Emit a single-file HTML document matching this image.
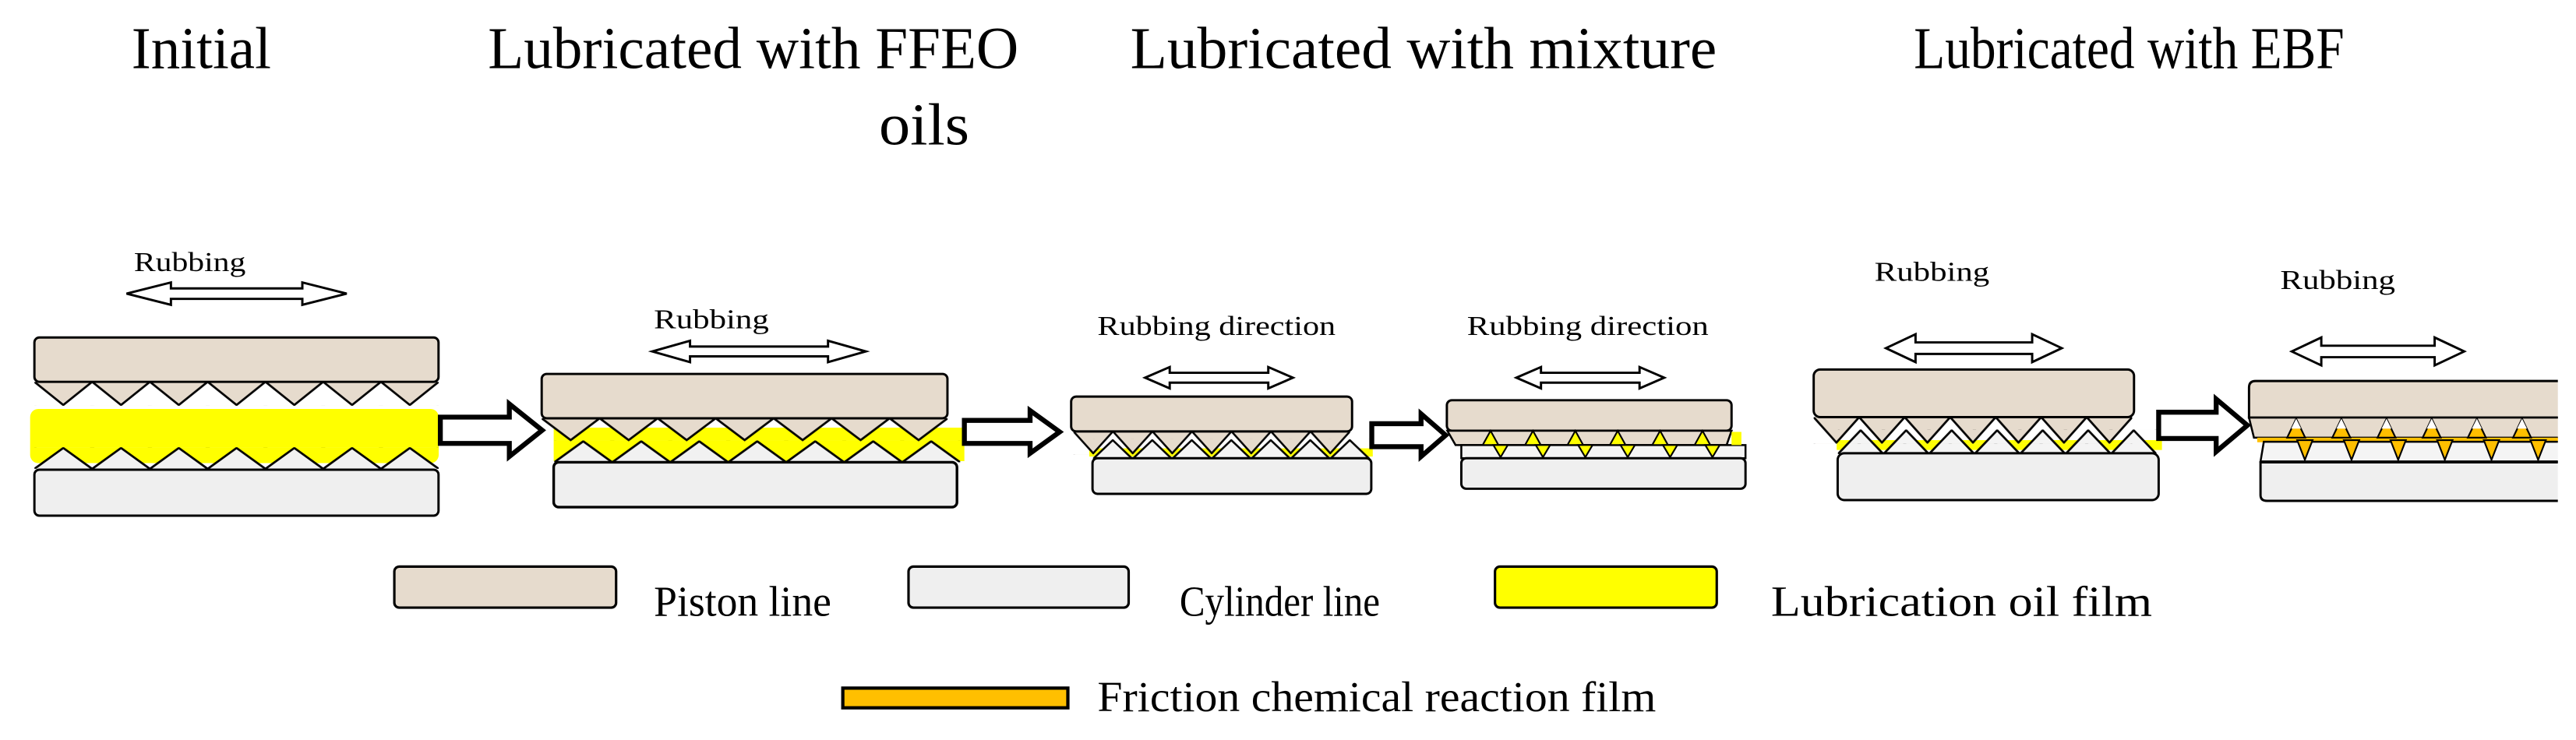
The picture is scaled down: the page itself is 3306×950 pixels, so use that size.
<!DOCTYPE html>
<html><head><meta charset="utf-8"><style>
html,body{margin:0;padding:0;background:#fff;}
svg{display:block;}
text{font-family:"Liberation Serif",serif;fill:#000;}
</style></head><body>
<svg width="3306" height="950" viewBox="0 0 1568 450.6" xmlns="http://www.w3.org/2000/svg">
<defs>
<pattern id="d1" patternUnits="userSpaceOnUse" x="20.9" y="232.5" width="35.16" height="14.6"><path d="M0,0 L17.58,14.1 L35.16,0Z" fill="#e6dbcd"/><path d="M0,0 L17.58,14.1 L35.16,0" fill="none" stroke="#000" stroke-width="1.3"/></pattern>
<pattern id="u1" patternUnits="userSpaceOnUse" x="20.9" y="272.3" width="35.16" height="13.2"><path d="M0,13.2 L17.58,0.5 L35.16,13.2Z" fill="#f1f1f1"/><path d="M0,13.2 L17.58,0.5 L35.16,13.2" fill="none" stroke="#000" stroke-width="1.3"/></pattern>
<pattern id="d2" patternUnits="userSpaceOnUse" x="329.7" y="254.7" width="35.3" height="14"><path d="M0,0 L17.65,13.3 L35.3,0Z" fill="#e6dbcd"/><path d="M0,0 L17.65,13.3 L35.3,0" fill="none" stroke="#000" stroke-width="1.3"/></pattern>
<pattern id="u2" patternUnits="userSpaceOnUse" x="337.35" y="268.2" width="35.3" height="13.3"><path d="M0,13.3 L17.65,0.5 L35.3,13.3Z" fill="#f1f1f1"/><path d="M0,13.3 L17.65,0.5 L35.3,13.3" fill="none" stroke="#000" stroke-width="1.3"/></pattern>
<pattern id="d3" patternUnits="userSpaceOnUse" x="653.4" y="262.7" width="24.05" height="14"><path d="M0,0 L12.03,13.3 L24.05,0Z" fill="#e6dbcd"/><path d="M0,0 L12.03,13.3 L24.05,0" fill="none" stroke="#000" stroke-width="1.2"/></pattern>
<pattern id="u3" patternUnits="userSpaceOnUse" x="665.3" y="267.5" width="24.05" height="12"><path d="M0,12 L12.03,0.5 L24.05,12Z" fill="#f4f4f4"/><path d="M0,12 L12.03,0.5 L24.05,12" fill="none" stroke="#000" stroke-width="1.2"/></pattern>
<pattern id="u5" patternUnits="userSpaceOnUse" x="1118.75" y="261.5" width="27.7" height="15"><path d="M0,15 L13.85,0.5 L27.7,15Z" fill="#f4f4f4"/></pattern>
<pattern id="u5l" patternUnits="userSpaceOnUse" x="1118.75" y="261.5" width="27.7" height="15"><path d="M0,15 L13.85,0.5 L27.7,15" fill="none" stroke="#000" stroke-width="1.3"/></pattern>
<pattern id="d5" patternUnits="userSpaceOnUse" x="1104" y="254" width="27.7" height="16.2"><path d="M0,0 L13.85,15.5 L27.7,0Z" fill="#e6dbcd"/><path d="M0,0 L13.85,15.5 L27.7,0" fill="none" stroke="#000" stroke-width="1.3"/></pattern>
</defs>

<!-- Titles -->
<text x="80" y="41.5" font-size="36" textLength="85" lengthAdjust="spacingAndGlyphs">Initial</text>
<text x="297" y="41.5" font-size="36" textLength="323" lengthAdjust="spacingAndGlyphs">Lubricated with FFEO</text>
<text x="535" y="88" font-size="36" textLength="55" lengthAdjust="spacingAndGlyphs">oils</text>
<text x="688" y="41.5" font-size="36" textLength="357" lengthAdjust="spacingAndGlyphs">Lubricated with mixture</text>
<text x="1165" y="41.5" font-size="36" textLength="262" lengthAdjust="spacingAndGlyphs">Lubricated with EBF</text>

<!-- Rubbing labels -->
<text x="81.5" y="165" font-size="16.5" textLength="68" lengthAdjust="spacingAndGlyphs">Rubbing</text>
<text x="398" y="200" font-size="16.5" textLength="70" lengthAdjust="spacingAndGlyphs">Rubbing</text>
<text x="668" y="204" font-size="16.5" textLength="145" lengthAdjust="spacingAndGlyphs">Rubbing direction</text>
<text x="893" y="204" font-size="16.5" textLength="147" lengthAdjust="spacingAndGlyphs">Rubbing direction</text>
<text x="1141" y="171" font-size="16.5" textLength="70" lengthAdjust="spacingAndGlyphs">Rubbing</text>
<text x="1388" y="176" font-size="16.5" textLength="70" lengthAdjust="spacingAndGlyphs">Rubbing</text>

<!-- Double arrows -->
<g fill="#fff" stroke="#000" stroke-width="1.4">
<path d="M77,178.8 L104,172 L104,175.6 L184,175.6 L184,172 L211,178.8 L184,185.6 L184,182 L104,182 L104,185.6Z"/>
<path d="M397,214 L420,207.5 L420,211 L504,211 L504,207.5 L527,214 L504,220.5 L504,217 L420,217 L420,220.5Z"/>
<path d="M697,230 L712,223.5 L712,227 L772,227 L772,223.5 L787,230 L772,236.5 L772,233 L712,233 L712,236.5Z"/>
<path d="M923,230 L938,223.5 L938,227 L998,227 L998,223.5 L1013,230 L998,236.5 L998,233 L938,233 L938,236.5Z"/>
<path d="M1148,212 L1166,203.5 L1166,208.5 L1237,208.5 L1237,203.5 L1255,212 L1237,220.5 L1237,215.5 L1166,215.5 L1166,220.5Z"/>
<path d="M1395,214 L1413,205.5 L1413,210.5 L1482,210.5 L1482,205.5 L1500,214 L1482,222.5 L1482,217.5 L1413,217.5 L1413,222.5Z"/>
</g>

<!-- Panel 1 -->
<rect x="20.9" y="232.5" width="246.1" height="14.6" fill="url(#d1)"/>
<rect x="20.9" y="205.5" width="246" height="27" rx="3" fill="#e6dbcd" stroke="#000" stroke-width="1.4"/>
<rect x="18.3" y="249" width="248.7" height="33" rx="5" fill="#ffff00"/>
<rect x="20.9" y="272.3" width="246.1" height="13.2" fill="url(#u1)"/>
<rect x="20.9" y="286" width="246" height="28" rx="3" fill="#efefef" stroke="#000" stroke-width="1.4"/>

<!-- Panel 2 -->
<rect x="337" y="260.4" width="250" height="20.4" fill="#ffff00"/>
<rect x="329.7" y="254.7" width="247.1" height="14" fill="url(#d2)"/>
<rect x="337.35" y="268.2" width="247.1" height="13.3" fill="url(#u2)"/>
<rect x="329.7" y="227.7" width="247" height="27" rx="3" fill="#e6dbcd" stroke="#000" stroke-width="1.4"/>
<rect x="337" y="281.5" width="245.5" height="27.3" rx="3" fill="#efefef" stroke="#000" stroke-width="1.6"/>

<!-- Panel 3 -->
<rect x="663" y="273" width="172.6" height="5" fill="#ffff00"/>
<rect x="653.4" y="262.7" width="168.4" height="14" fill="url(#d3)"/>
<rect x="665.3" y="267.5" width="168.4" height="12" fill="url(#u3)"/>
<rect x="652" y="241.5" width="171" height="21.2" rx="3" fill="#e6dbcd" stroke="#000" stroke-width="1.4"/>
<rect x="665" y="279" width="169.7" height="21.7" rx="3" fill="#efefef" stroke="#000" stroke-width="1.4"/>

<!-- Panel 4 -->
<rect x="880.7" y="243.7" width="173.3" height="18.6" rx="3" fill="#e6dbcd" stroke="#000" stroke-width="1.4"/>
<path d="M881,262.3 L1054,262.3 L1051,271 L886,271Z" fill="#e6dbcd" stroke="#000" stroke-width="1.2"/>
<path d="M889.5,271 L1062.5,271 L1062.5,279 L889.5,279Z" fill="#f4f4f4" stroke="#000" stroke-width="1.2"/>
<g fill="#ffff00" stroke="#000" stroke-width="1">
<path d="M902.5,271 L907.3,262.3 L912.1,271Z"/><path d="M928.3,271 L933.1,262.3 L937.9,271Z"/><path d="M954.1,271 L958.9,262.3 L963.7,271Z"/><path d="M979.9,271 L984.7,262.3 L989.5,271Z"/><path d="M1005.7,271 L1010.5,262.3 L1015.3,271Z"/><path d="M1031.5,271 L1036.3,262.3 L1041.1,271Z"/>
<path d="M909,271 L913.4,278.4 L917.8,271Z"/><path d="M934.8,271 L939.2,278.4 L943.6,271Z"/><path d="M960.6,271 L965,278.4 L969.4,271Z"/><path d="M986.4,271 L990.8,278.4 L995.2,271Z"/><path d="M1012.2,271 L1016.6,278.4 L1021,271Z"/><path d="M1038,271 L1042.4,278.4 L1046.8,271Z"/>
</g>
<rect x="1054" y="263" width="6" height="8" fill="#ffff00"/>
<rect x="889.5" y="279" width="173" height="18.6" rx="3" fill="#efefef" stroke="#000" stroke-width="1.4"/>

<!-- Panel 5 -->
<rect x="1118" y="268" width="198" height="6" fill="#ffff00"/>
<rect x="1118.75" y="261.5" width="193.9" height="15" fill="url(#u5)"/>
<rect x="1104" y="254" width="193.9" height="16.2" fill="url(#d5)"/>
<rect x="1118.75" y="261.5" width="193.9" height="15" fill="url(#u5l)"/>
<rect x="1104" y="225" width="195" height="29" rx="4" fill="#e6dbcd" stroke="#000" stroke-width="1.4"/>
<rect x="1118.6" y="276" width="195.4" height="28.5" rx="4" fill="#efefef" stroke="#000" stroke-width="1.4"/>

<!-- Panel 6 -->
<path d="M1557,232 L1373,232 Q1369,232 1369,236 L1369,254.3 L1557,254.3" fill="#e6dbcd" stroke="#000" stroke-width="1.4"/>
<path d="M1557,254.3 L1369,254.3 L1372,266.5 L1557,266.5" fill="#e6dbcd" stroke="#000" stroke-width="1.2"/>
<rect x="1374" y="266.5" width="183" height="2.8" fill="#ffbf00"/>
<path d="M1557,269 L1378,269 L1376,281 L1557,281" fill="#f4f4f4" stroke="#000" stroke-width="1.2"/>
<g stroke="#000" stroke-width="1">
<path d="M1392.2,266.5 L1397.7,255 L1403.2,266.5Z" fill="#ffbf00"/><path d="M1394.7,261 L1397.7,255 L1400.7,261Z" fill="#fff" stroke="none"/>
<path d="M1419.7,266.5 L1425.2,255 L1430.7,266.5Z" fill="#ffbf00"/><path d="M1422.2,261 L1425.2,255 L1428.2,261Z" fill="#fff" stroke="none"/>
<path d="M1447.2,266.5 L1452.7,255 L1458.2,266.5Z" fill="#ffbf00"/><path d="M1449.7,261 L1452.7,255 L1455.7,261Z" fill="#fff" stroke="none"/>
<path d="M1474.7,266.5 L1480.2,255 L1485.7,266.5Z" fill="#ffbf00"/><path d="M1477.2,261 L1480.2,255 L1483.2,261Z" fill="#fff" stroke="none"/>
<path d="M1502.2,266.5 L1507.7,255 L1513.2,266.5Z" fill="#ffbf00"/><path d="M1504.7,261 L1507.7,255 L1510.7,261Z" fill="#fff" stroke="none"/>
<path d="M1529.7,266.5 L1535.2,255 L1540.7,266.5Z" fill="#ffbf00"/><path d="M1532.2,261 L1535.2,255 L1538.2,261Z" fill="#fff" stroke="none"/>
<g fill="#ffbf00">
<path d="M1398.3,268 L1403,280 L1407.7,268Z"/><path d="M1426.7,268 L1431.4,280 L1436.1,268Z"/><path d="M1455.1,268 L1459.8,280 L1464.5,268Z"/><path d="M1483.5,268 L1488.2,280 L1492.9,268Z"/><path d="M1511.9,268 L1516.6,280 L1521.3,268Z"/><path d="M1540.3,268 L1545,280 L1549.7,268Z"/>
</g>
</g>
<path d="M1557,281.5 L1376,281.5 L1376,301.5 Q1376,305 1380,305 L1557,305" fill="#efefef" stroke="#000" stroke-width="1.4"/>

<!-- Block arrows -->
<g fill="#fff" stroke="#000" stroke-width="3">
<path d="M268,254 L310,254 L310,246 L330,262 L310,278 L310,270 L268,270Z"/>
<path d="M587,256 L627,256 L627,250 L645,263 L627,276 L627,270 L587,270Z"/>
<path d="M835,258 L865,258 L865,252 L880,265 L865,278 L865,272 L835,272Z"/>
<path d="M1314,251 L1349,251 L1349,243 L1368,259 L1349,275 L1349,267 L1314,267Z"/>
</g>

<!-- Legend -->
<rect x="240" y="345" width="135" height="25" rx="3" fill="#e6dbcd" stroke="#000" stroke-width="1.5"/>
<text x="398" y="375" font-size="26" textLength="108" lengthAdjust="spacingAndGlyphs">Piston line</text>
<rect x="553" y="345" width="134" height="25" rx="3" fill="#efefef" stroke="#000" stroke-width="1.5"/>
<text x="718" y="375" font-size="26" textLength="122" lengthAdjust="spacingAndGlyphs">Cylinder line</text>
<rect x="910" y="345" width="135" height="25" rx="3" fill="#ffff00" stroke="#000" stroke-width="1.5"/>
<text x="1078" y="375" font-size="26" textLength="232" lengthAdjust="spacingAndGlyphs">Lubrication oil film</text>
<rect x="513" y="419" width="137" height="12" fill="#ffbf00" stroke="#000" stroke-width="2"/>
<text x="668" y="433" font-size="26" textLength="340" lengthAdjust="spacingAndGlyphs">Friction chemical reaction film</text>
</svg>
</body></html>
